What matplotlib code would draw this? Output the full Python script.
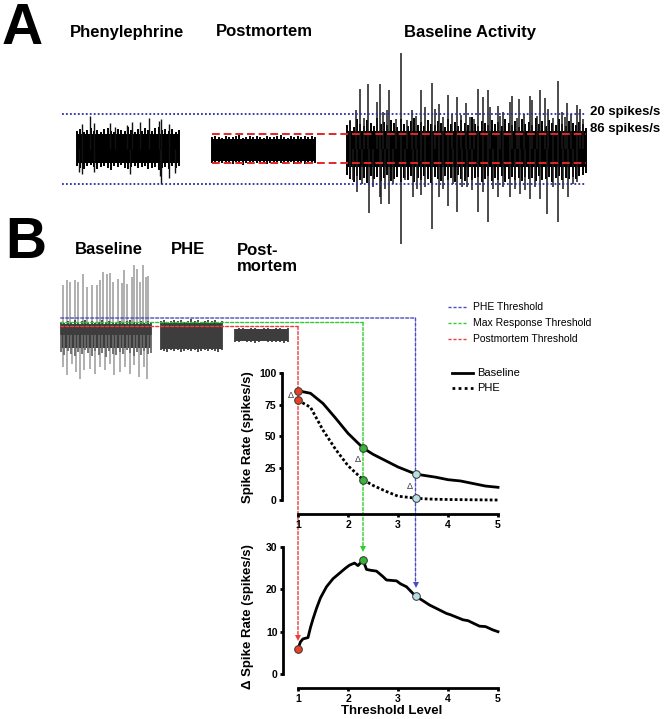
import numpy as np
import matplotlib.pyplot as plt
from matplotlib.patches import ConnectionPatch
from matplotlib.transforms import blended_transform_factory as blend

plt.rcParams['font.family'] = ['Liberation Sans', 'DejaVu Sans']

# ---------------- panel A recordings (time s, amplitude a.u.) ----------------
phe_span = (0.0, 10.2)
phe_core = (29, -28)
phe_up = [36, 40, 33, 38, 42, 35, 37, 33, 39, 41, 36, 34, 40, 38, 35, 43, 37, 34, 39, 36, 42, 38, 35, 41, 44,
          37, 40, 36, 39, 34, 37]
phe_lo = [-34, -38, -41, -35, -33, -37, -40, -36, -34, -39, -42, -35, -37, -33, -38, -40, -36, -34, -39, -37,
          -35, -41, -38, -36, -43, -39, -37, -40, -35, -38, -34]
phe_spk_t = [0.5, 1.27, 1.67, 3.33, 3.77, 5.0, 5.5, 6.33, 7.17, 8.17, 8.43, 9.17]
phe_spk_a = [50, 65, 51, 52, 43, 48, 53, 53, 61, 56, 60, 50]
phe_dn_t = [0.17, 0.5, 1.67, 5.33, 8.33, 8.43, 9.17, 9.83]
phe_dn_a = [-47, -50, -47, -50, -54, -70, -58, -48]

pm_span = (13.5, 23.8)
pm_core = (20, -25)
pm_up = [23, 25, 24, 22, 26, 24, 23, 25, 27, 22, 24, 26, 23, 25, 24, 22, 26, 24, 23, 25, 27, 24, 22, 26, 23,
         25, 24, 26, 23, 25, 24]
pm_lo = [-28, -30, -27, -29, -31, -28, -30, -27, -29, -32, -28, -30, -27, -29, -31, -28, -30, -29, -27, -31,
         -28, -30, -29, -27, -31, -29, -28, -30, -27, -29, -28]

base_span = (27.0, 50.9)
base_core = (35, -37)
base_up = [48, 55, 44, 60, 50, 46, 58, 52, 45, 62, 49, 54, 47, 57, 51, 44, 59, 50, 46, 55, 61, 48, 53, 45,
           58, 50, 47, 56, 52, 44, 60, 49, 54, 46, 57, 51, 48, 63, 50, 45, 55, 52, 47, 58, 49, 54, 46, 60,
           51, 48, 56, 44, 59, 50, 53, 47, 62, 49, 55, 46, 57, 52, 48, 60, 50, 45, 56, 51, 47, 54, 49, 42]
base_lo = [-52, -60, -66, -55, -63, -58, -68, -54, -61, -57, -65, -59, -53, -64, -60, -56, -67, -58, -62,
           -55, -66, -59, -63, -54, -61, -68, -57, -60, -64, -55, -62, -58, -66, -53, -60, -65, -57, -63,
           -59, -56, -67, -61, -54, -64, -58, -62, -55, -66, -60, -57, -63, -59, -65, -56, -61, -58, -64,
           -54, -62, -60, -57, -66, -59, -55, -63, -58, -61, -56, -60, -54, -52, -48]
base_spk_t = [27.3, 27.9, 28.3, 28.7, 29.13, 29.97, 30.3, 30.63, 30.97, 31.23, 31.9, 32.37, 32.97, 33.47, 33.9,
              34.37, 34.8, 35.47, 35.8, 36.23, 36.6, 37.07, 37.47, 37.97, 38.4, 38.9, 39.3, 39.7, 40.13, 40.63,
              41.13, 41.3, 42.07, 42.3, 42.63, 43.3, 43.53, 44.0, 44.23, 44.7, 45.3, 45.47, 46.0, 46.3, 46.8,
              47.13, 47.6, 48.07, 48.47, 48.8, 49.03, 49.37, 49.97, 50.3, 50.6]
base_spk_a = [57, 77, 120, 62, 130, 94, 130, 74, 77, 117, 60, 192, 57, 77, 66,
              117, 84, 132, 80, 90, 63, 108, 70, 104, 68, 92, 64, 60, 119, 104,
              117, 84, 86, 65, 74, 94, 105, 62, 100, 70, 106, 97, 66, 118, 102,
              80, 61, 135, 74, 64, 92, 70, 87, 80, 60]
base_dn_t = [27.3, 27.63, 27.97, 28.47, 29.23, 29.63, 30.3, 30.4, 30.8, 31.23, 31.63, 32.37, 32.8, 33.57, 33.97,
             34.4, 34.8, 35.47, 36.23, 36.63, 37.07, 37.63, 37.97, 38.47, 38.97, 39.47, 40.13, 40.63, 41.07,
             41.63, 42.13, 42.63, 43.3, 43.8, 44.3, 44.8, 45.3, 45.8, 46.3, 47.03, 47.63, 48.13, 48.63, 49.07,
             49.63, 50.03]
base_dn_a = [-56, -63, -86, -70, -128, -76, -96, -110, -80, -110, -70, -191, -63, -96, -80,
             -93, -76, -160, -96, -80, -115, -70, -126, -76, -76, -83, -126, -86, -146,
             -80, -96, -76, -96, -80, -90, -83, -100, -76, -100, -131, -76, -146, -80, -96,
             -70, -66]
thrA_phe = 70     # 20 spikes/s
thrA_pm = 29      # 86 spikes/s

# ---------------- panel B recordings ----------------
bB_span = (0.07, 9.1)
bB_core = (23, -26)
bB_up = [27, 25, 29, 26, 30, 25, 28, 31, 26, 29, 25, 27, 30, 26, 28, 27, 25, 29, 26, 28, 30, 26, 27, 29, 25,
         28, 27]
bB_lo = [-34, -40, -31, -37, -42, -33, -38, -30, -36, -41, -32, -39, -35, -43, -31, -37, -40, -33, -38, -30,
         -36, -42, -34, -39, -31, -37, -35]
bB_spk_t = [0.33, 0.67, 1.0, 1.5, 1.83, 2.27, 2.73, 3.17, 3.67, 4.0, 4.33, 4.73, 5.0, 5.33, 5.83, 6.17,
            6.43, 6.67, 7.17, 7.43, 7.67, 8.0, 8.27, 8.57, 8.83]
bB_spk_a = [101, 110, 107, 110, 107, 123, 97, 101, 100, 110, 127, 123, 125, 107, 113, 105,
            130, 103, 117, 140, 133, 107, 141, 117, 119]
bB_dn_t = [0.33, 0.67, 1.17, 1.6, 2.0, 2.4, 3.0, 3.5, 4.0, 4.5, 5.0, 5.4, 6.0, 6.5, 7.0, 7.4, 7.93, 8.4, 8.73]
bB_dn_a = [-63, -80, -57, -73, -87, -70, -67, -77, -63, -70, -57, -80, -73, -63, -77, -60, -83, -63, -87]

pB_span = (10.07, 16.17)
pB_core = (25, -27)
pB_up = [28, 30, 27, 29, 31, 28, 30, 27, 29, 32, 28, 30, 27, 29, 31, 28, 30, 27, 29]
pB_lo = [-29, -31, -33, -30, -32, -29, -34, -31, -30, -32, -29, -33, -31, -30, -32, -29, -31, -33, -30]

pmB_span = (17.5, 22.8)
pmB_core = (12, -12)
pmB_up = [13, 15, 14, 12, 15, 14, 13, 15, 14, 13, 15, 14, 13, 15]
pmB_lo = [-13, -14, -12, -14, -13, -15, -13, -12, -14, -13, -14, -13, -15, -13]

# threshold level of each threshold (postmortem, max response, PHE)
thr_names = ['Postmortem Threshold', 'Max Response Threshold', 'PHE Threshold']
thr_level = [1.0, 2.3, 3.35]
thr_ampB = [17, 25, 34]
thr_col = ['#ee3b3b', '#2ecc2e', '#4b4bc8']
pt_col = ['#e8412a', '#36b536', '#b8dfe3']

# ---------------- spike rate vs threshold ----------------
lvl = [1.0, 1.25, 1.5, 1.75, 2.0, 2.3, 2.5, 2.75, 3.0, 3.35, 3.5, 3.75, 4.0, 4.25, 4.5, 4.75, 5.0]
rate_base = [86, 84, 76, 64.5, 52.5, 41, 36, 31, 26, 20.5, 19.5, 18, 16, 15, 13, 11, 10]
rate_phe = [78.5, 73, 55, 40, 27, 16, 11.5, 7, 3, 1.5, 1, 0.6, 0.4, 0.3, 0.2, 0.1, 0]
base_at = [86, 41, 20.5]
phe_at = [78.5, 16, 1.5]

d_lvl = [1.0, 1.05, 1.1, 1.2, 1.25, 1.3, 1.37, 1.45, 1.57, 1.7, 1.83, 1.95, 2.03, 2.13, 2.2, 2.3, 2.37,
         2.45, 2.57, 2.7, 2.77, 2.97, 3.05, 3.17, 3.35, 3.5, 3.63, 3.8, 3.97, 4.05, 4.3, 4.4, 4.63, 4.75,
         4.9, 5.0]
d_rate = [6.0, 7.6, 8.3, 8.6, 11.0, 13.0, 15.5, 18.0, 20.6, 22.5, 23.8, 25.0, 25.7, 26.2, 25.6, 26.9, 24.7,
          24.5, 24.3, 23.0, 22.2, 22.0, 21.3, 20.6, 18.4, 17.3, 16.3, 15.3, 14.3, 14.0, 12.8, 12.6, 11.3, 11.2,
          10.4, 10.0]
delta_at = [6.0, 26.9, 18.4]

W, H = 666, 719
fig = plt.figure(figsize=(W / 100, H / 100), dpi=100)


def box(x0, y0, x1, y1):
    return [x0 / W, 1 - y1 / H, (x1 - x0) / W, (y1 - y0) / H]


def ftxt(x, y, s, **kw):
    fig.text(x / W, 1 - y / H, s, **kw)


def trace(ax, span, core, up, lo, color, hair=None, lw=1.0):
    # solid core of the noise band plus hair-like excursions
    t = np.linspace(span[0], span[1], len(up))
    ax.fill_between([span[0], span[1]], core[1], core[0], color=color, lw=0, zorder=2)
    ax.vlines(t, 0, up, colors=color, lw=lw, zorder=2)
    ax.vlines(t, lo, 0, colors=hair or color, lw=lw, zorder=2)


# ---- panel A ----
axA = fig.add_axes(box(60, 40, 600, 250))
axA.set_xlim(-1.7, 52.3)
axA.set_ylim(-203, 217)
axA.axis('off')

trace(axA, phe_span, phe_core, phe_up, phe_lo, 'black', lw=1.4)
axA.vlines(phe_spk_t, 0, phe_spk_a, colors='#111111', lw=1.0)
axA.vlines(phe_dn_t, 0, phe_dn_a, colors='#111111', lw=1.0)
trace(axA, pm_span, pm_core, pm_up, pm_lo, 'black', lw=1.4)
trace(axA, base_span, base_core, base_up, base_lo, 'black', lw=1.4)
axA.vlines(base_spk_t, 0, base_spk_a, colors='#1a1a1a', lw=1.1)
axA.vlines(base_dn_t, 0, base_dn_a, colors='#1a1a1a', lw=1.1)

for s in (1, -1):
    axA.plot([phe_span[0] - 1.5, base_span[1]], [s * thrA_phe] * 2, color='#2a2aa8', lw=1.3,
             ls=(0, (1, 1.2)), zorder=3)
    axA.plot([pm_span[0], base_span[1]], [s * thrA_pm] * 2, color='#e02828', lw=1.4,
             ls=(0, (4, 2)), zorder=3)

ftxt(2, 44, 'A', fontsize=41, fontweight='bold', va='baseline', ha='left')
ftxt(127, 32, 'Phenylephrine', fontsize=12, fontweight='bold', ha='center', va='center')
ftxt(264, 32, 'Postmortem', fontsize=12, fontweight='bold', ha='center', va='center')
ftxt(469.5, 32, 'Baseline Activity', fontsize=12, fontweight='bold', ha='center', va='center')
ftxt(590, 112, '20 spikes/s', fontsize=9.5, fontweight='bold', va='center')
ftxt(590, 129, '86 spikes/s', fontsize=9.5, fontweight='bold', va='center')

# ---- panel B traces ----
axB = fig.add_axes(box(40, 255, 300, 385))
axB.set_xlim(-2, 24)
axB.set_ylim(-100, 160)
axB.axis('off')
axB.vlines(bB_spk_t, 0, bB_spk_a, colors='#9a9a9a', lw=1.1, zorder=1)
axB.vlines(bB_dn_t, 0, bB_dn_a, colors='#9a9a9a', lw=1.1, zorder=1)
trace(axB, bB_span, bB_core, bB_up, bB_lo, '#3d3d3d', hair='#6a6a6a', lw=1.3)
trace(axB, pB_span, pB_core, pB_up, pB_lo, '#3d3d3d', lw=1.3)
trace(axB, pmB_span, pmB_core, pmB_up, pmB_lo, '#3d3d3d', lw=1.3)

ftxt(5, 258, 'B', fontsize=41, fontweight='bold', va='baseline', ha='left')
ftxt(108.5, 249, 'Baseline', fontsize=12, fontweight='bold', ha='center', va='center')
ftxt(187.5, 249, 'PHE', fontsize=12, fontweight='bold', ha='center', va='center')
ftxt(237, 258.5, 'Post-\nmortem', fontsize=12, fontweight='bold', ha='left', va='center',
     linespacing=1.1)


def prism(ax, xb, yb):
    for s in ['top', 'right']:
        ax.spines[s].set_visible(False)
    ax.spines['left'].set_bounds(*yb)
    ax.spines['bottom'].set_bounds(*xb)
    ax.spines['left'].set_linewidth(2)
    ax.spines['bottom'].set_linewidth(2)
    ax.tick_params(width=2, length=2.5, labelsize=7.5, pad=1.5)
    for lab in ax.get_xticklabels() + ax.get_yticklabels():
        lab.set_fontweight('bold')
    ax.set_facecolor('none')


# ---- spike rate plot ----
ax1 = fig.add_axes(box(282, 366.6, 498, 514))
ax1.set_xlim(0.68, 5.0)
ax1.set_ylim(-11, 105)
ax1.set_xticks([1, 2, 3, 4, 5])
ax1.set_yticks([0, 25, 50, 75, 100])
prism(ax1, (1, 5), (0, 100))
ax1.plot(lvl, rate_base, color='black', lw=2, clip_on=False)
ax1.plot(lvl, rate_phe, color='black', lw=2, ls=(0, (1, 0.8)), clip_on=False)
for i in range(3):
    for v in (base_at[i], phe_at[i]):
        ax1.plot(thr_level[i], v, 'o', ms=5.5, mfc=pt_col[i], mec='#333333', mew=0.7, zorder=5,
                 clip_on=False)
for x, y in [(0.86, 82), (2.19, 32), (3.23, 11)]:
    ax1.text(x, y, 'Δ', fontsize=6.5, ha='center', va='center', color='#333333')
ax1.set_ylabel('Spike Rate (spikes/s)', fontsize=9.5, fontweight='bold')
ax1.yaxis.set_label_coords(-0.13, 0.52)

# ---- delta plot ----
ax2 = fig.add_axes(box(283, 538.5, 498, 688))
ax2.set_xlim(0.70, 5.0)
ax2.set_ylim(-3.3, 32)
ax2.set_xticks([1, 2, 3, 4, 5])
ax2.set_yticks([0, 10, 20, 30])
prism(ax2, (1, 5), (0, 30))
ax2.plot(d_lvl, d_rate, color='black', lw=2, clip_on=False)
for i in range(3):
    ax2.plot(thr_level[i], delta_at[i], 'o', ms=5.5, mfc=pt_col[i], mec='#333333', mew=0.7,
             zorder=5, clip_on=False)
    ax2.plot(thr_level[i], delta_at[i] + 2.6, 'v', ms=4.5, color=thr_col[i], mew=0, zorder=4,
             clip_on=False)
ax2.set_ylabel('Δ Spike Rate (spikes/s)', fontsize=9.5, fontweight='bold')
ax2.yaxis.set_label_coords(-0.135, 0.48)
ax2.set_xlabel('Threshold Level', fontsize=9.5, fontweight='bold')
ax2.xaxis.set_label_coords(0.507, -0.115)

# ---- threshold guide lines ----
for i in range(3):
    mix = blend(ax2.transData, axB.transData)
    h = ConnectionPatch(xyA=(bB_span[0], thr_ampB[i]), coordsA=axB.transData,
                        xyB=(thr_level[i], thr_ampB[i]), coordsB=mix,
                        color=thr_col[i], lw=1.0, ls=(0, (2.2, 1.4)), zorder=5)
    fig.add_artist(h)
    v = ConnectionPatch(xyA=(thr_level[i], thr_ampB[i]), coordsA=mix,
                        xyB=(thr_level[i], delta_at[i] + 3.2), coordsB=ax2.transData,
                        color=thr_col[i], lw=1.0, ls=(0, (2.2, 1.4)), zorder=-1)
    fig.add_artist(v)

# ---- legends ----
for i, yy in zip([2, 1, 0], [307, 323, 339]):
    fig.add_artist(plt.Line2D([448 / W, 468 / W], [1 - yy / H] * 2, color=thr_col[i], lw=1.0,
                              ls=(0, (2.2, 1.4))))
    ftxt(473, yy, thr_names[i], fontsize=7.5, va='center')
fig.add_artist(plt.Line2D([452 / W, 473 / W], [1 - 373 / H] * 2, color='black', lw=2))
fig.add_artist(plt.Line2D([452 / W, 473 / W], [1 - 388 / H] * 2, color='black', lw=2,
                          ls=(0, (1, 1.2))))
ftxt(477, 373, 'Baseline', fontsize=8, va='center')
ftxt(477, 388, 'PHE', fontsize=8, va='center')

fig.savefig('out.png', dpi=100)
